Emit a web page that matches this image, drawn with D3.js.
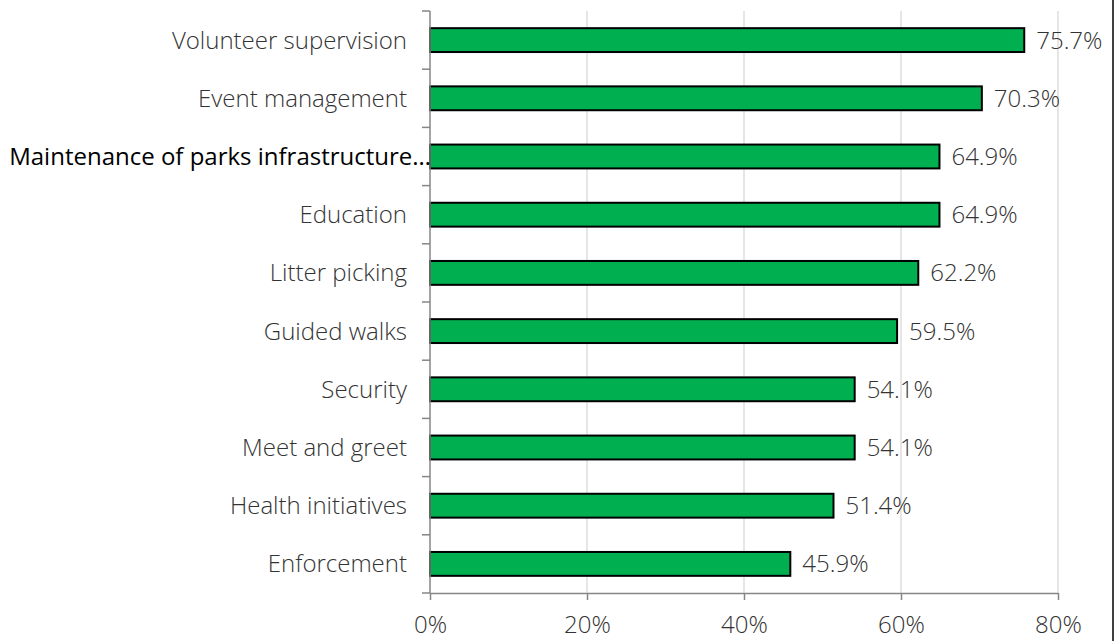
<!DOCTYPE html>
<html>
<head>
<meta charset="utf-8">
<script src="https://cdn.jsdelivr.net/npm/d3@7"></script>
<style>
  html, body { margin: 0; padding: 0; background: #fff; }
  svg { display: block; }
</style>
</head>
<body>
<svg id="chart" width="1119" height="641"></svg>
<script>
// Activities and share of respondents (%)
const categories = [
  "Volunteer supervision",
  "Event management",
  "Maintenance of parks infrastructure…",
  "Education",
  "Litter picking",
  "Guided walks",
  "Security",
  "Meet and greet",
  "Health initiatives",
  "Enforcement"
];
const values = [75.7, 70.3, 64.9, 64.9, 62.2, 59.5, 54.1, 54.1, 51.4, 45.9];
const xTicks = [0, 20, 40, 60, 80];

const svg = d3.select("#chart");
const margin = { left: 430, right: 61, top: 11, bottom: 48 };
const W = 1119, H = 641;

const x = d3.scaleLinear().domain([0, 80]).range([margin.left, W - margin.right]);
const y = d3.scaleBand().domain(categories).range([margin.top, H - margin.bottom]).paddingInner(0.59).paddingOuter(0.295);
const yBands = d3.scaleBand().domain(categories).range([margin.top, H - margin.bottom]);

const labelFont = "'Open Sans', 'Segoe UI', sans-serif";

// vertical gridlines
svg.append("g").selectAll("line").data(xTicks.slice(1)).join("line")
  .attr("x1", d => x(d)).attr("x2", d => x(d))
  .attr("y1", margin.top).attr("y2", H - margin.bottom)
  .attr("stroke", "#d9d9d9").attr("stroke-width", 1.3);

// bars
svg.append("g").selectAll("rect").data(values).join("rect")
  .attr("x", x(0))
  .attr("y", (d, i) => y(categories[i]))
  .attr("width", d => x(d) - x(0))
  .attr("height", y.bandwidth())
  .attr("fill", "#00b050")
  .attr("stroke", "#000").attr("stroke-width", 2);

// x axis
const xAxis = d3.axisBottom(x).tickValues(xTicks).tickFormat(d => d + "%").tickSize(7).tickSizeOuter(0);
const gx = svg.append("g").attr("transform", `translate(0,${H - margin.bottom})`).call(xAxis);
gx.select(".domain").attr("stroke", "#868686").attr("stroke-width", 1.5);
gx.selectAll(".tick line").attr("stroke", "#868686").attr("stroke-width", 1.5);
gx.selectAll(".tick text").attr("dy", 0).attr("y", 40)
  .attr("font-family", labelFont).attr("font-weight", 300)
  .attr("font-size", 24).attr("fill", "#333");

// y axis: line with band-boundary ticks
const gy = svg.append("g");
gy.append("line")
  .attr("x1", x(0)).attr("x2", x(0))
  .attr("y1", margin.top).attr("y2", H - margin.bottom)
  .attr("stroke", "#868686").attr("stroke-width", 1.5);
const bounds = categories.map(c => yBands(c)).concat([H - margin.bottom]);
gy.selectAll("line.tk").data(bounds).join("line").attr("class", "tk")
  .attr("x1", x(0) - 8).attr("x2", x(0))
  .attr("y1", d => d).attr("y2", d => d)
  .attr("stroke", "#868686").attr("stroke-width", 1.5);

// category labels
gy.selectAll("text").data(categories).join("text")
  .attr("x", (d, i) => i === 2 ? x(0) + 1 : 407)
  .attr("y", d => yBands(d) + yBands.bandwidth() / 2)
  .attr("dy", "0.35em")
  .attr("text-anchor", "end")
  .attr("font-family", labelFont)
  .attr("font-weight", (d, i) => i === 2 ? 400 : 300)
  .attr("font-size", 24)
  .attr("fill", (d, i) => i === 2 ? "#000" : "#333")
  .text(d => d);

// value labels
svg.append("g").selectAll("text").data(values).join("text")
  .attr("x", d => x(d) + 12)
  .attr("y", (d, i) => yBands(categories[i]) + yBands.bandwidth() / 2)
  .attr("dy", "0.35em")
  .attr("font-family", labelFont).attr("font-weight", 300)
  .attr("font-size", 24).attr("fill", "#333")
  .text(d => d.toFixed(1) + "%");

// right frame edge
svg.append("line")
  .attr("x1", 1113).attr("x2", 1113).attr("y1", 0).attr("y2", H)
  .attr("stroke", "#000").attr("stroke-width", 1.5);
</script>
</body>
</html>
